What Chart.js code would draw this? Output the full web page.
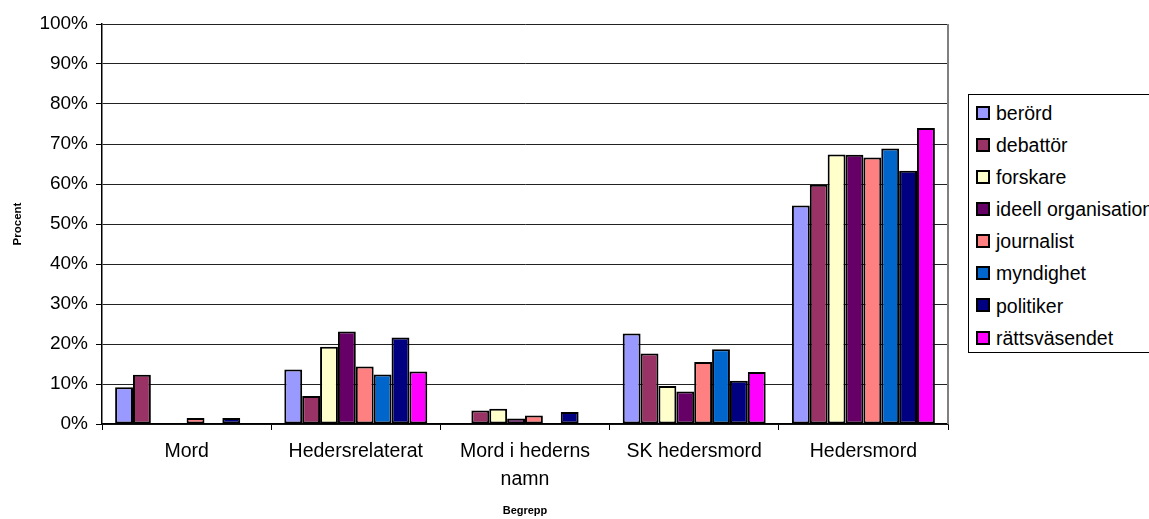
<!DOCTYPE html>
<html>
<head>
<meta charset="utf-8">
<script src="https://cdn.jsdelivr.net/npm/chart.js@4/dist/chart.umd.min.js"></script>
<style>
  html, body { margin: 0; padding: 0; background: #fff; overflow: hidden; width: 1149px; height: 519px; }
  #wrap { position: relative; width: 1149px; height: 519px; }
  #legend { position: absolute; left: 968px; top: 94px; width: 220px; height: 259px; border: 1px solid #000; box-sizing: border-box; background: #fff; font-family: 'Liberation Sans', Arial, sans-serif; font-size: 19.5px; color: #000; }
  .item { position: absolute; left: 7px; height: 24px; line-height: 24px; white-space: nowrap; }
  .sw { display: inline-block; width: 10px; height: 10px; border: 2px solid #000; vertical-align: middle; margin-right: 6px; position: relative; top: -2px; }
</style>
</head>
<body>
<div id="wrap">
  <canvas id="c" width="1149" height="519"></canvas>
  <div id="legend"></div>
</div>
<script>
// Categories (x axis)
const categories = ['Mord', 'Hedersrelaterat', ['Mord i hederns', 'namn'], 'SK hedersmord', 'Hedersmord'];
// Series names
const seriesNames = ['berörd', 'debattör', 'forskare', 'ideell organisation', 'journalist', 'myndighet', 'politiker', 'rättsväsendet'];
// Series values (percent)
const berord        = [9.2, 13.6, 0,   22.6, 54.6];
const debattor      = [12.3, 7.0, 3.4, 17.6, 59.8];
const forskare      = [0,   19.3, 3.8,  9.5, 67.4];
const ideell        = [0,   23.1, 1.4,  8.1, 67.3];
const journalist    = [1.5, 14.4, 2.1, 15.5, 66.6];
const myndighet     = [0,   12.4, 0,   18.7, 68.9];
const politiker     = [1.5, 21.6, 3.0, 10.8, 63.3];
const rattsvasendet = [0,   13.1, 0,   13.0, 74.0];
// Y tick values
const yTicks = [0, 10, 20, 30, 40, 50, 60, 70, 80, 90, 100];

const seriesValues = [berord, debattor, forskare, ideell, journalist, myndighet, politiker, rattsvasendet];
const colors = ['#9999FF', '#993366', '#FFFFCC', '#660066', '#FF8080', '#0066CC', '#000080', '#FF00FF'];

const FONT = "'Liberation Sans', Arial, sans-serif";

const datasets = seriesNames.map((name, i) => ({
  label: name,
  data: seriesValues[i],
  backgroundColor: colors[i],
  borderColor: '#000',
  borderWidth: 2,
  borderSkipped: false,
  categoryPercentage: 0.845,
  barPercentage: 1.0
}));

const plotBorder = {
  id: 'plotBorder',
  beforeDatasetsDraw(chart) {
    const {ctx, chartArea: a} = chart;
    ctx.save();
    ctx.strokeStyle = '#808080';
    ctx.lineWidth = 2;
    ctx.beginPath();
    ctx.moveTo(a.right, a.top);
    ctx.lineTo(a.right, a.bottom);
    ctx.stroke();
    ctx.restore();
  }
};

new Chart(document.getElementById('c'), {
  type: 'bar',
  data: { labels: categories, datasets },
  options: {
    responsive: false,
    devicePixelRatio: 1,
    animation: false,
    layout: { padding: { left: 0, right: 201, top: 24, bottom: 0 } },
    plugins: { legend: { display: false }, tooltip: { enabled: false } },
    scales: {
      x: {
        grid: { display: true, offset: true, drawOnChartArea: false, drawTicks: true, tickLength: 6, tickColor: '#000' },
        border: { display: true, color: '#000', width: 1.5 },
        ticks: { color: '#000', font: { family: FONT, size: 19.5, lineHeight: 1.44 }, padding: 8, maxRotation: 0, autoSkip: false },
        title: { display: true, text: 'Begrepp', color: '#000', font: { family: FONT, size: 11, weight: 'bold' }, padding: { top: 0, bottom: 1.5 } },
        afterFit(scale) { scale.height = 95; }
      },
      y: {
        min: 0, max: 100,
        afterBuildTicks(scale) { scale.ticks = yTicks.map(v => ({ value: v })); },
        grid: { color: '#222', lineWidth: 1, drawTicks: true, tickLength: 6, tickColor: '#000' },
        border: { display: true, color: '#000', width: 1.5 },
        ticks: { color: '#000', font: { family: FONT, size: 19 }, padding: 8, callback: v => v + '%' },
        title: { display: true, text: 'Procent', color: '#000', font: { family: FONT, size: 11.5, weight: 'bold' }, padding: { top: 10.5, bottom: 0 } },
        afterFit(scale) { scale.width = 102; }
      }
    }
  },
  plugins: [plotBorder]
});

// HTML legend built from the series arrays
const lg = document.getElementById('legend');
seriesNames.forEach((name, i) => {
  const d = document.createElement('div');
  d.className = 'item';
  d.style.top = (5.7 + i * 32.14) + 'px';
  const s = document.createElement('span');
  s.className = 'sw';
  s.style.background = colors[i];
  d.appendChild(s);
  d.appendChild(document.createTextNode(name));
  lg.appendChild(d);
});
</script>
</body>
</html>
